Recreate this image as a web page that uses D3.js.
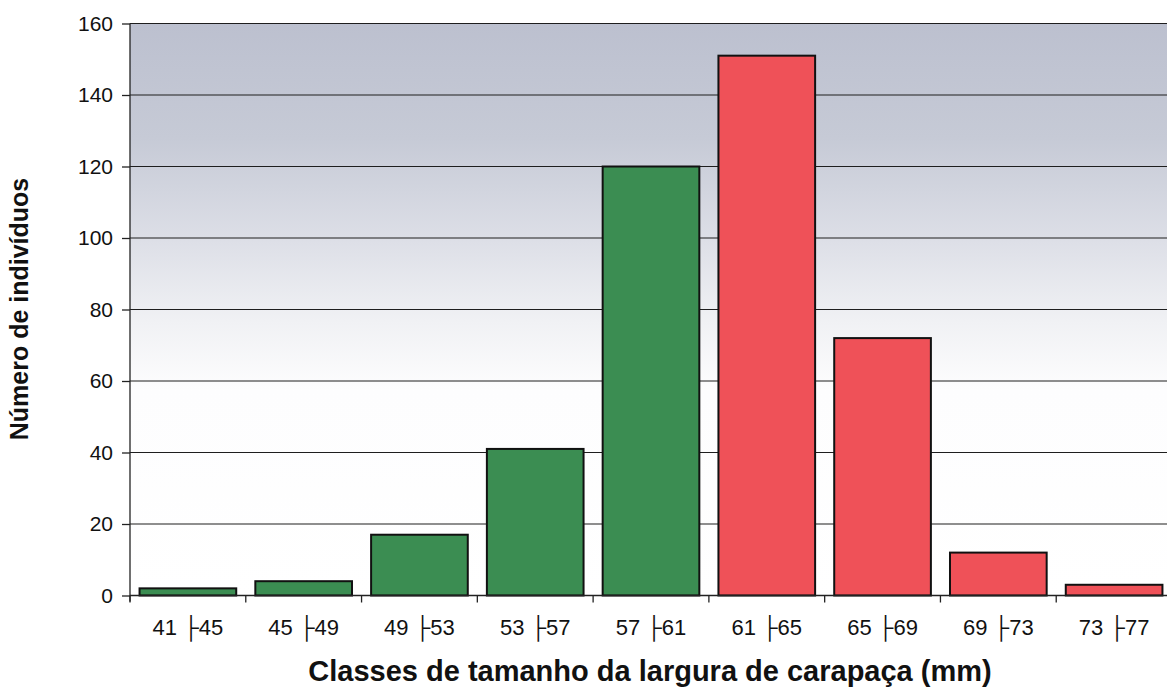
<!DOCTYPE html>
<html>
<head>
<meta charset="utf-8">
<script src="https://cdn.jsdelivr.net/npm/d3@7"></script>
<style>
  html, body { margin: 0; padding: 0; background: #ffffff; overflow: hidden; }
  svg { display: block; }
</style>
</head>
<body>
<svg id="chart" width="1167" height="687"></svg>
<script>
// Size classes of carapace width (mm) and number of individuals per class
const classes = ["41 \u251C45", "45 \u251C49", "49 \u251C53", "53 \u251C57", "57 \u251C61",
                 "61 \u251C65", "65 \u251C69", "69 \u251C73", "73 \u251C77"];
const counts = [2, 4, 17, 41, 120, 151, 72, 12, 3];
// Group of each class: first five in green, the rest in red
const groups = ["g", "g", "g", "g", "g", "r", "r", "r", "r"];
const yTicks = [0, 20, 40, 60, 80, 100, 120, 140, 160];

const svg = d3.select("#chart");
const margin = { left: 130, top: 23.5, right: -5, bottom: 91.5 };
const W = 1167, H = 687;
const x0 = margin.left, x1 = W - margin.right;
const y0 = H - margin.bottom, y1 = margin.top;

const x = d3.scaleBand().domain(classes).range([x0, x1]).paddingInner(0.165).paddingOuter(0.0825);
const y = d3.scaleLinear().domain([0, 160]).range([y0, y1]);

const fill = { g: "#3b8d52", r: "#ef5158" };
const font = "'Liberation Sans', Arial, 'DejaVu Sans', sans-serif";

// Plot-area background: bluish grey at the top fading to white
const defs = svg.append("defs");
const grad = defs.append("linearGradient").attr("id", "bg").attr("x1", 0).attr("y1", 0).attr("x2", 0).attr("y2", 1);
grad.append("stop").attr("offset", "0%").attr("stop-color", "#bcc0cf");
grad.append("stop").attr("offset", "20%").attr("stop-color", "#c6cad6");
grad.append("stop").attr("offset", "38%").attr("stop-color", "#dddfe7");
grad.append("stop").attr("offset", "52%").attr("stop-color", "#f0f1f4");
grad.append("stop").attr("offset", "64%").attr("stop-color", "#fdfdfe");
grad.append("stop").attr("offset", "100%").attr("stop-color", "#ffffff");

svg.append("rect")
  .attr("x", x0).attr("y", y1)
  .attr("width", x1 - x0).attr("height", y0 - y1)
  .attr("fill", "url(#bg)");

// Horizontal gridlines (the top one also closes the plot area)
svg.append("g")
  .selectAll("line")
  .data(yTicks.filter(d => d > 0))
  .join("line")
  .attr("x1", x0).attr("x2", x1)
  .attr("y1", d => y(d)).attr("y2", d => y(d))
  .attr("stroke", "#1e1e1e").attr("stroke-width", 1.2);

// Bars
svg.append("g")
  .selectAll("rect")
  .data(classes)
  .join("rect")
  .attr("x", d => x(d))
  .attr("width", x.bandwidth())
  .attr("y", (d, i) => y(counts[i]))
  .attr("height", (d, i) => y(0) - y(counts[i]))
  .attr("fill", (d, i) => fill[groups[i]])
  .attr("stroke", "#111111")
  .attr("stroke-width", 2);

// Y axis
const yAxis = svg.append("g")
  .attr("transform", `translate(${x0},0)`)
  .call(d3.axisLeft(y).tickValues(yTicks).tickSize(8).tickPadding(9).tickFormat(d3.format("d")));
yAxis.select(".domain").attr("stroke", "#222").attr("stroke-width", 1.3).attr("d", `M0,${y1}V${y0 + 6}`);
yAxis.selectAll(".tick line").attr("stroke", "#222").attr("stroke-width", 1.3);
yAxis.selectAll(".tick text")
  .attr("font-family", font)
  .attr("font-size", 21).attr("fill", "#111");

// X axis: ticks at band boundaries, labels centred in the bands
const xAxis = svg.append("g").attr("transform", `translate(0,${y0})`);
xAxis.append("line")
  .attr("x1", x0).attr("x2", x1).attr("y1", 0).attr("y2", 0)
  .attr("stroke", "#222").attr("stroke-width", 1.3);
const step = x.step();
const bounds = classes.map((d, i) => x(d) - step * x.paddingInner() / 2);
xAxis.selectAll("line.tk")
  .data(bounds)
  .join("line").attr("class", "tk")
  .attr("x1", d => d).attr("x2", d => d)
  .attr("y1", 0).attr("y2", 7)
  .attr("stroke", "#222").attr("stroke-width", 1.3);
xAxis.selectAll("text")
  .data(classes)
  .join("text")
  .attr("x", d => x(d) + x.bandwidth() / 2)
  .attr("y", 39)
  .attr("text-anchor", "middle")
  .attr("font-family", font)
  .attr("font-size", 22).attr("fill", "#111")
  .text(d => d);

// Axis titles
svg.append("text")
  .attr("x", 650).attr("y", 681)
  .attr("text-anchor", "middle")
  .attr("font-family", font)
  .attr("font-weight", "bold").attr("font-size", 29).attr("fill", "#111")
  .text("Classes de tamanho da largura de carapaça (mm)");

svg.append("text")
  .attr("transform", "translate(28,309) rotate(-90)")
  .attr("text-anchor", "middle")
  .attr("font-family", font)
  .attr("font-weight", "bold").attr("font-size", 25).attr("fill", "#111")
  .text("Número de indivíduos");
</script>
</body>
</html>
